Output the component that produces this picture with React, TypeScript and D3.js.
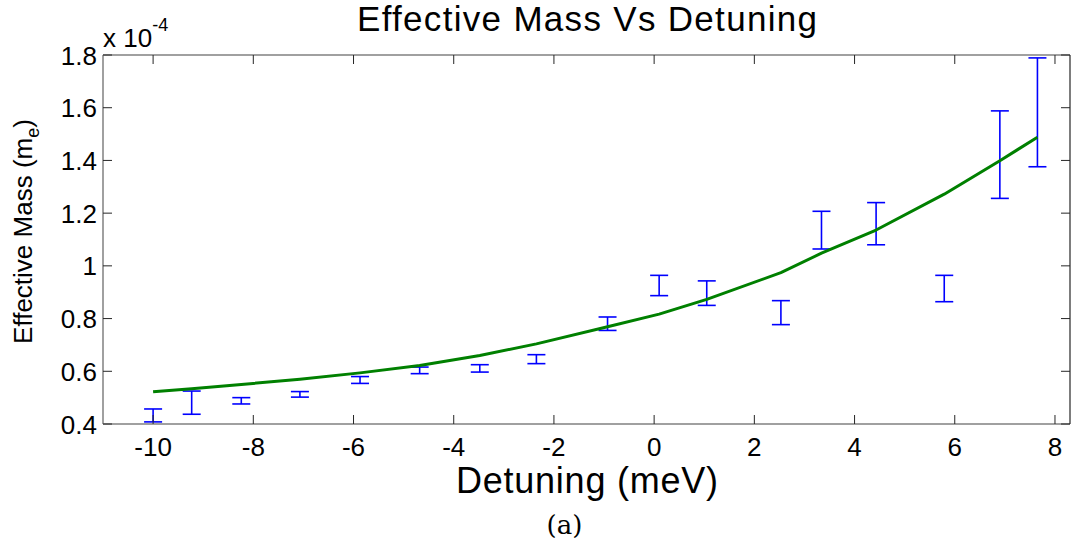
import React from "react";
import * as d3 from "d3";

const detuning = [-10.0, -9.23, -8.24, -7.07, -5.87, -4.68, -3.48, -2.35, -0.93, 0.1, 1.05, 2.53, 3.34, 4.43, 5.79, 6.9, 7.65];
const upperErr = [0.457, 0.525, 0.5, 0.523, 0.58, 0.616, 0.625, 0.663, 0.806, 0.964, 0.943, 0.868, 1.207, 1.24, 0.964, 1.588, 1.789];
const lowerErr = [0.408, 0.437, 0.476, 0.502, 0.554, 0.591, 0.597, 0.629, 0.755, 0.887, 0.85, 0.777, 1.064, 1.08, 0.864, 1.256, 1.376];
const fitValues = [0.522, 0.534, 0.55, 0.57, 0.594, 0.622, 0.66, 0.704, 0.769, 0.817, 0.873, 0.974, 1.048, 1.136, 1.272, 1.399, 1.488];
const xTicks = [-10, -8, -6, -4, -2, 0, 2, 4, 6, 8];
const yTicks = [0.4, 0.6, 0.8, 1, 1.2, 1.4, 1.6, 1.8];

const W = 1071;
const H = 548;
const L = 103, R = 1070, T = 55, B = 424;
const FONT = "Liberation Sans, Arial, Helvetica, sans-serif";

export default function App() {
  const x = d3.scaleLinear().domain([-11, 8.3]).range([L, R]);
  const y = d3.scaleLinear().domain([0.4, 1.8]).range([B, T]);
  const line = d3
    .line<number>()
    .x((_, i) => x(detuning[i]))
    .y((d) => y(d));
  const tickLen = 9;
  const cap = 9;
  return (
    <svg
      width={W}
      height={H}
      style={{ position: "absolute", left: 0, top: 0, background: "#fff" }}
      fontFamily={FONT}
    >
      <rect x={0} y={0} width={W} height={H} fill="#fff" />
      {/* error bars */}
      <g stroke="#0000ff" strokeWidth={1.6} fill="none">
        {detuning.map((d, i) => {
          const cx = x(d);
          const yt = y(upperErr[i]);
          const yb = y(lowerErr[i]);
          return (
            <g key={i}>
              <line x1={cx} x2={cx} y1={yt} y2={yb} />
              <line x1={cx - cap} x2={cx + cap} y1={yt} y2={yt} />
              <line x1={cx - cap} x2={cx + cap} y1={yb} y2={yb} />
            </g>
          );
        })}
      </g>
      {/* fit line */}
      <path d={line(fitValues) || ""} stroke="#008000" strokeWidth={3} fill="none" strokeLinejoin="round" />
      {/* axes box */}
      <g stroke="#808080" strokeWidth={1.5} fill="none">
        <line x1={L} x2={R} y1={T} y2={T} />
        <line x1={L} x2={R} y1={B} y2={B} />
        <line x1={L} x2={L} y1={T} y2={B} />
      </g>
      <line x1={R} x2={R} y1={T} y2={B} stroke="#262626" strokeWidth={1.2} />
      {/* ticks */}
      <g stroke="#262626" strokeWidth={1}>
        {xTicks.map((t) => (
          <g key={"xt" + t}>
            <line x1={x(t)} x2={x(t)} y1={B} y2={B - tickLen} />
            <line x1={x(t)} x2={x(t)} y1={T} y2={T + tickLen} />
          </g>
        ))}
        {yTicks.map((t) => (
          <g key={"yt" + t}>
            <line x1={L} x2={L + tickLen} y1={y(t)} y2={y(t)} />
            <line x1={R} x2={R - tickLen} y1={y(t)} y2={y(t)} />
          </g>
        ))}
      </g>
      {/* tick labels */}
      <g fill="#000" fontSize={26}>
        {xTicks.map((t) => (
          <text key={"xl" + t} x={x(t)} y={456} textAnchor="middle">
            {t}
          </text>
        ))}
        {yTicks.map((t) => (
          <text key={"yl" + t} x={97} y={y(t) + 9.5} textAnchor="end">
            {d3.format("")(t)}
          </text>
        ))}
      </g>
      {/* exponent */}
      <text x={103} y={47} fontSize={26} fill="#000">
        x 10
        <tspan dy={-16} fontSize={18}>-4</tspan>
      </text>
      {/* title */}
      <text x={357} y={31} fontSize={35} textLength={460} lengthAdjust="spacing" fill="#000">
        Effective Mass Vs Detuning
      </text>
      {/* x label */}
      <text x={456} y={493} fontSize={36} textLength={262} lengthAdjust="spacing" fill="#000">
        Detuning (meV)
      </text>
      {/* y label */}
      <text transform={`translate(32,${(T + B) / 2 - 8}) rotate(-90)`} fontSize={26} textAnchor="middle" fill="#000">
        Effective Mass (m
        <tspan dy={7} fontSize={18}>e</tspan>
        <tspan dy={-7}>)</tspan>
      </text>
      {/* caption */}
      <text x={564.5} y={534} fontSize={26} textAnchor="middle" fill="#000" fontFamily="DejaVu Serif, Liberation Serif, serif">
        (a)
      </text>
    </svg>
  );
}
